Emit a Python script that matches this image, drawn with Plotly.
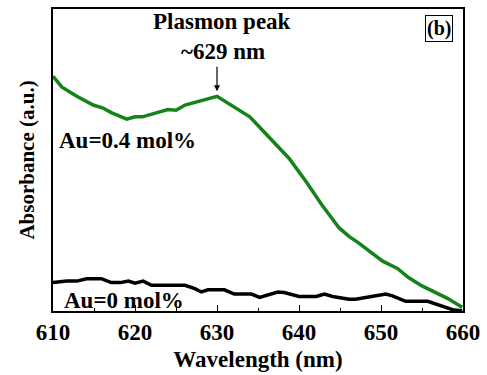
import plotly.graph_objects as go

# Au = 0.4 mol% (green)
wl_au04 = [610.0, 611.1, 612.9, 614.9, 616.1, 617.1, 619.0, 620.0, 620.9, 624.0, 625.0, 626.1,
           630.0, 631.5, 634.0, 634.8, 636.8, 638.8, 640.9, 642.8, 644.9, 646.1, 647.3, 650.2,
           652.0, 653.4, 655.0, 656.9, 658.1, 659.9]
abs_au04 = [0.777, 0.741, 0.711, 0.682, 0.672, 0.657, 0.635, 0.643, 0.643, 0.667, 0.665, 0.682,
            0.711, 0.685, 0.643, 0.620, 0.564, 0.505, 0.427, 0.351, 0.275, 0.247, 0.225, 0.165,
            0.141, 0.110, 0.083, 0.056, 0.042, 0.012]

# Au = 0 mol% (black)
wl_au0 = [610.0, 611.7, 612.9, 614.1, 615.9, 617.1, 618.2, 619.2, 620.0, 621.0, 622.0, 626.1,
          627.3, 628.1, 628.9, 630.9, 632.1, 634.2, 635.2, 637.4, 638.2, 640.0, 642.1, 643.1,
          644.1, 646.1, 646.9, 649.0, 650.6, 651.4, 653.0, 655.7, 657.3, 658.9, 659.9]
abs_au0 = [0.094, 0.099, 0.099, 0.107, 0.107, 0.094, 0.094, 0.099, 0.092, 0.099, 0.085, 0.085,
           0.074, 0.063, 0.070, 0.070, 0.056, 0.056, 0.045, 0.063, 0.061, 0.048, 0.048, 0.056,
           0.048, 0.039, 0.039, 0.050, 0.056, 0.050, 0.032, 0.032, 0.017, 0.003, 0.001]

x_ticks = [610, 620, 630, 640, 650, 660]

FONT = "Times New Roman, Liberation Serif, serif"

fig = go.Figure()
fig.add_trace(go.Scatter(x=wl_au0, y=abs_au0, mode="lines",
                         line=dict(color="black", width=3.5), showlegend=False))
fig.add_trace(go.Scatter(x=wl_au04, y=abs_au04, mode="lines",
                         line=dict(color="#13831a", width=3.5), showlegend=False))

fig.update_layout(
    width=487, height=375,
    margin=dict(l=53, r=22, t=7, b=63),
    paper_bgcolor="white", plot_bgcolor="white",
    font=dict(family=FONT, color="black"),
    xaxis=dict(range=[610, 660], tickvals=x_ticks, ticks="inside", ticklen=6, tickwidth=1.2,
               tickcolor="black",
               minor=dict(dtick=5, ticks="inside", ticklen=3, tickcolor="black", tickwidth=1),
               showline=True, linecolor="black", linewidth=1.5, mirror=True,
               showgrid=False, zeroline=False,
               tickfont=dict(family=FONT, size=23, color="black", weight="bold"),
               title=dict(text="<b>Wavelength (nm)</b>", font=dict(family=FONT, size=23), standoff=7)),
    yaxis=dict(range=[0, 1], showticklabels=False, ticks="",
               showline=True, linecolor="black", linewidth=1.5, mirror=True,
               showgrid=False, zeroline=False,
               title=dict(text="<b>Absorbance (a.u.)</b>", font=dict(family=FONT, size=21), standoff=11)),
)

fig.add_annotation(x=630.0, y=0.728, xref="x", yref="y", text="", showarrow=True,
                   ax=0, ay=-26, arrowhead=2, arrowsize=1, arrowwidth=1.2, arrowcolor="black")
fig.add_annotation(x=630.6, y=0.957, xref="x", yref="y", text="<b>Plasmon peak</b>",
                   showarrow=False, font=dict(family=FONT, size=23))
fig.add_annotation(x=630.7, y=0.859, xref="x", yref="y", text="<b>~629 nm</b>",
                   showarrow=False, font=dict(family=FONT, size=23))
fig.add_annotation(x=610.5, y=0.564, xref="x", yref="y", text="<b>Au=0.4 mol%</b>",
                   showarrow=False, xanchor="left", font=dict(family=FONT, size=23))
fig.add_annotation(x=611.1, y=0.036, xref="x", yref="y", text="<b>Au=0 mol%</b>",
                   showarrow=False, xanchor="left", font=dict(family=FONT, size=23))
fig.add_annotation(x=657.1, y=0.936, xref="x", yref="y", text="<b>(b)</b>",
                   showarrow=False, font=dict(family=FONT, size=20),
                   bordercolor="black", borderwidth=1, borderpad=1, bgcolor="white")

fig.write_html("out.html")
